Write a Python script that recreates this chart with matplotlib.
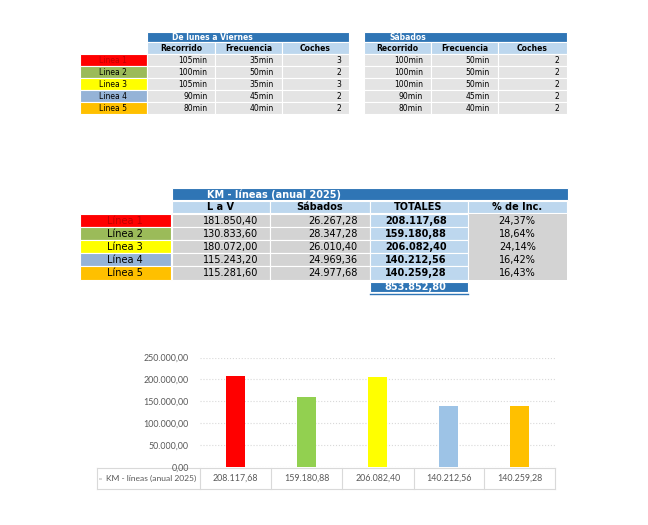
import matplotlib
matplotlib.use('Agg')
import matplotlib.pyplot as plt
from matplotlib.patches import Rectangle
from matplotlib.ticker import FuncFormatter

# --- datos ---
lineas_corto = ['Linea 1', 'Linea 2', 'Linea 3', 'Linea 4', 'Linea 5']
lineas = ['Línea 1', 'Línea 2', 'Línea 3', 'Línea 4', 'Línea 5']
cols_horario = ['Recorrido', 'Frecuencia', 'Coches']

lav_recorrido = ['105min', '100min', '105min', '90min', '80min']
lav_frecuencia = ['35min', '50min', '35min', '45min', '40min']
lav_coches = ['3', '2', '3', '2', '2']

sab_recorrido = ['100min', '100min', '100min', '90min', '80min']
sab_frecuencia = ['50min', '50min', '50min', '45min', '40min']
sab_coches = ['2', '2', '2', '2', '2']

km_lav = [181850.40, 130833.60, 180072.00, 115243.20, 115281.60]
km_sab = [26267.28, 28347.28, 26010.40, 24969.36, 24977.68]
km_total = [208117.68, 159180.88, 206082.40, 140212.56, 140259.28]
pct_inc = ['24,37%', '18,64%', '24,14%', '16,42%', '16,43%']
km_suma = 853852.80

colores_tabla = ['#FF0000', '#9BBB59', '#FFFF00', '#95B3D7', '#FFC000']
colores_barras = ['#FF0000', '#92D050', '#FFFF00', '#9DC3E6', '#FFC000']

AZUL = '#2F75B5'
AZUL_CLARO = '#BDD7EE'
GRIS1 = '#E4E4E4'
GRIS2 = '#D3D3D3'
TF = 'DejaVu Sans'
CF = 'Lato'


def es(v):
    s = f'{v:,.2f}'
    return s.replace(',', 'X').replace('.', ',').replace('X', '.')


fig = plt.figure(figsize=(6.48, 5.25), dpi=100)
bg = fig.add_axes([0, 0, 1, 1])
bg.set_xlim(0, 648)
bg.set_ylim(525, 0)
bg.axis('off')


def cell(x0, x1, y0, y1, fill, txt='', ha='center', pad=8, **kw):
    bg.add_patch(Rectangle((x0, y0), x1 - x0, y1 - y0, facecolor=fill,
                           edgecolor='white', linewidth=0.8))
    if txt:
        if ha == 'center':
            tx = (x0 + x1) / 2
        elif ha == 'right':
            tx = x1 - pad
        else:
            tx = x0 + pad
        bg.text(tx, (y0 + y1) / 2 + 0.5, txt, ha=ha, va='center', family=TF, **kw)


# --- tablas superiores ---
def tabla_horario(xs, titulo, datos, con_lineas):
    cell(xs[0], xs[-1], 32.3, 42.3, AZUL, titulo, ha='left', pad=25,
         color='white', fontsize=5.5, fontweight='bold')
    for j, c in enumerate(cols_horario):
        cell(xs[j], xs[j + 1], 42.3, 53.5, AZUL_CLARO, c, fontsize=5.5, fontweight='bold')
    for i in range(5):
        y0 = 54.3 + i * 11.85
        y1 = y0 + 11.85
        if con_lineas:
            cell(80, 146.5, y0, y1, colores_tabla[i], lineas_corto[i], fontsize=5.5,
                 color='#C00000' if i == 0 else 'black')
        for j in range(3):
            cell(xs[j], xs[j + 1], y0, y1, GRIS1, datos[j][i], ha='right', pad=8,
                 fontsize=5.5)


tabla_horario([146.7, 215.3, 282, 349], 'De lunes a Viernes',
              [lav_recorrido, lav_frecuencia, lav_coches], True)
tabla_horario([364, 431, 497.7, 567], 'Sábados',
              [sab_recorrido, sab_frecuencia, sab_coches], False)

# --- tabla km ---
xk = [171.7, 270, 369.5, 467.7, 566.7]
cell(xk[0], 568.3, 188.3, 199.8, AZUL, 'KM - líneas (anual 2025)', ha='left', pad=35,
     color='white', fontsize=7, fontweight='bold')
for j, c in enumerate(['L a V', 'Sábados', 'TOTALES', '% de Inc.']):
    cell(xk[j], xk[j + 1], 200.8, 213, AZUL_CLARO, c, fontsize=7, fontweight='bold')
bg.add_patch(Rectangle((xk[3], 214), xk[4] - xk[3], 65.5, facecolor=GRIS2, edgecolor='none'))
for i in range(5):
    y0 = 214 + i * 13.1
    y1 = y0 + 13.1
    cell(80, 170.7, y0, y1, colores_tabla[i], lineas[i], fontsize=7,
         color='#C00000' if i == 0 else 'black')
    cell(xk[0], xk[1], y0, y1, GRIS2, es(km_lav[i]), ha='right', pad=12, fontsize=7)
    cell(xk[1], xk[2], y0, y1, GRIS2, es(km_sab[i]), ha='right', pad=12, fontsize=7)
    cell(xk[2], xk[3], y0, y1, AZUL_CLARO, es(km_total[i]), ha='right', pad=21,
         fontsize=7, fontweight='bold')
    bg.text((xk[3] + xk[4]) / 2, (y0 + y1) / 2 + 0.5, pct_inc[i], ha='center',
            va='center', family=TF, fontsize=7)
cell(xk[2], xk[3], 281.5, 291.5, AZUL, es(km_suma), ha='right', pad=21,
     color='white', fontsize=7, fontweight='bold')
bg.plot([xk[2], xk[3]], [294.3, 294.3], color=AZUL, lw=1)

# --- grafico ---
ax = fig.add_axes([200 / 648, 1 - 467 / 525, 355 / 648, 109.5 / 525])
pos = list(range(len(km_total)))
ax.bar(pos, km_total, width=0.27, color=colores_barras, zorder=3)
ax.set_xlim(-0.5, len(km_total) - 0.5)
ax.set_ylim(0, 250000)
ax.set_yticks([0, 50000, 100000, 150000, 200000, 250000])
ax.yaxis.set_major_formatter(FuncFormatter(lambda v, p: es(v)))
ax.grid(axis='y', color='#D9D9D9', linestyle=':', linewidth=0.8, zorder=0)
ax.set_xticks([])
for s in ax.spines.values():
    s.set_visible(False)
ax.tick_params(axis='y', length=0, pad=8, labelsize=6.4, labelcolor='#595959')
for lab in ax.get_yticklabels():
    lab.set_family(CF)

# tabla de datos bajo el grafico
xt = [96.7, 200, 271, 342.3, 413.5, 484.3, 555]
yt0, yt1 = 467.5, 489
for x in xt:
    bg.plot([x, x], [yt0, yt1], color='#D9D9D9', lw=0.8)
bg.plot([xt[0], xt[-1]], [yt0, yt0], color='#D9D9D9', lw=0.8)
bg.plot([xt[0], xt[-1]], [yt1, yt1], color='#D9D9D9', lw=0.8)
bg.add_patch(Rectangle((99, 477.5), 2.5, 2.5, facecolor='#D9D9D9', edgecolor='none'))
bg.text(106, (yt0 + yt1) / 2, 'KM - líneas (anual 2025)', ha='left', va='center',
        family=CF, fontsize=6.1, color='#595959')
for i, v in enumerate(km_total):
    bg.text((xt[i + 1] + xt[i + 2]) / 2, (yt0 + yt1) / 2, es(v), ha='center',
            va='center', family=CF, fontsize=6.4, color='#595959')

fig.savefig('out.png', dpi=100)
